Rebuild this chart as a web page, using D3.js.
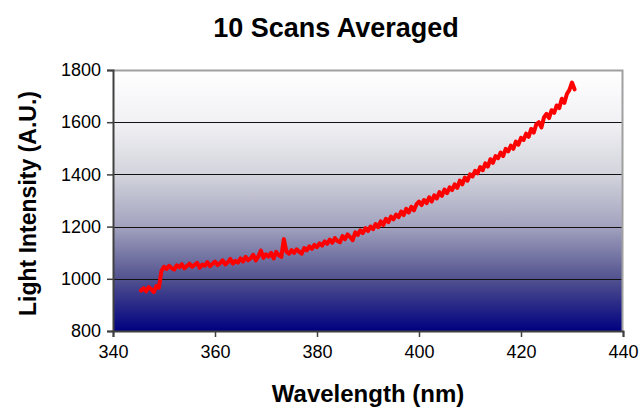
<!DOCTYPE html>
<html>
<head>
<meta charset="utf-8">
<script src="https://cdn.jsdelivr.net/npm/d3@7"></script>
<style>
  html, body { margin: 0; padding: 0; background: #ffffff; }
  svg { display: block; font-family: "Liberation Sans", Arial, sans-serif; }
</style>
</head>
<body>
<svg id="chart" width="643" height="408"></svg>
<script>
// ---- data ----
const titleText = "10 Scans Averaged";
const xLabel = "Wavelength (nm)";
const yLabel = "Light Intensity (A.U.)";
const xTicks = [340, 360, 380, 400, 420, 440];
const yTicks = [800, 1000, 1200, 1400, 1600, 1800];
const wlStart = 345.5;   // first wavelength (nm)
const wlStep = 0.5;      // sampling step (nm)
const intensity = [
  955, 964, 952, 968, 960, 949, 972, 966, 1030, 1046,
  1038, 1050, 1041, 1035, 1052, 1044, 1056, 1040, 1049, 1058,
  1046, 1053, 1061, 1042, 1055, 1050, 1064, 1048, 1057, 1066,
  1052, 1060, 1071, 1055, 1063, 1076, 1058, 1069, 1062, 1078,
  1066, 1084, 1071, 1079, 1092, 1070, 1086, 1108, 1080, 1094,
  1085, 1099, 1078, 1103, 1090, 1084, 1152, 1104, 1096, 1110,
  1099, 1113, 1104, 1096, 1118, 1109, 1124, 1115, 1130, 1121,
  1136, 1127, 1143, 1134, 1150, 1138, 1156, 1145, 1140, 1164,
  1152, 1170, 1160, 1148, 1178, 1168, 1186, 1175, 1194, 1183,
  1200, 1190, 1210, 1198, 1220, 1206, 1230, 1217, 1238, 1228,
  1246, 1236, 1258, 1244, 1268, 1254, 1276, 1262, 1285, 1296,
  1282, 1302, 1290, 1312, 1296, 1320, 1308, 1332, 1318, 1342,
  1328, 1350, 1340, 1362, 1348, 1376, 1362, 1388, 1376, 1400,
  1392, 1414, 1404, 1428, 1416, 1442, 1430, 1458, 1444, 1470,
  1462, 1484, 1470, 1498, 1488, 1510, 1498, 1526, 1514, 1540,
  1532, 1556, 1544, 1574, 1560, 1592, 1600, 1580, 1618, 1632,
  1616, 1646, 1636, 1664, 1654, 1690, 1674, 1708, 1724, 1752,
  1726
];
const points = intensity.map((v, i) => ({ x: wlStart + i * wlStep, y: v }));

// ---- layout ----
const svg = d3.select("#chart");
const W = 643, H = 408;
const m = { top: 70, right: 20, bottom: 77, left: 113 };
const pw = W - m.left - m.right, ph = H - m.top - m.bottom;

const x = d3.scaleLinear().domain([340, 440]).range([0, pw]);
const y = d3.scaleLinear().domain([800, 1800]).range([ph, 0]);

const defs = svg.append("defs");
const grad = defs.append("linearGradient").attr("id", "bg")
  .attr("x1", 0).attr("y1", 0).attr("x2", 0).attr("y2", 1);
[[0, "#ffffff"], [0.2, "#f1f1f5"], [0.4, "#d3d4dc"], [0.6, "#a2a2bf"], [0.8, "#52528f"], [1, "#000080"]]
  .forEach(([o, c]) => grad.append("stop").attr("offset", o).attr("stop-color", c));

const g = svg.append("g").attr("transform", `translate(${m.left},${m.top})`);

g.append("rect").attr("width", pw).attr("height", ph).attr("fill", "url(#bg)");

// gridlines
g.append("g").selectAll("line").data(yTicks.slice(1, -1)).join("line")
  .attr("x1", 0).attr("x2", pw)
  .attr("y1", d => Math.round(y(d)) + 0.5).attr("y2", d => Math.round(y(d)) + 0.5)
  .attr("stroke", "#111").attr("stroke-width", 1);

// border top/right
g.append("path").attr("d", `M0,0.5H${pw - 0.5}V${ph}`)
  .attr("fill", "none").attr("stroke", "#a0a0a0").attr("stroke-width", 2);

// line
const line = d3.line().x(d => x(d.x)).y(d => y(d.y));
g.append("path").datum(points).attr("d", line)
  .attr("fill", "none").attr("stroke", "#ff0000").attr("stroke-width", 4)
  .attr("stroke-linejoin", "round").attr("stroke-linecap", "round");

// axes
const xAxis = g.append("g").attr("transform", `translate(0,${ph})`)
  .call(d3.axisBottom(x).tickValues(xTicks).tickSize(6).tickPadding(8).tickFormat(d3.format("d")));
const yAxis = g.append("g")
  .call(d3.axisLeft(y).tickValues(yTicks).tickSize(6).tickPadding(6).tickFormat(d3.format("d")));
[xAxis, yAxis].forEach(a => {
  a.select(".domain").attr("stroke", "#404040").attr("stroke-width", 2);
  a.selectAll(".tick line").attr("stroke", "#404040").attr("stroke-width", 1.5);
  a.selectAll(".tick text").attr("fill", "#000").style("font-size", "18px")
    .style("font-family", "'Liberation Sans', Arial, sans-serif");
});

// titles
svg.append("text").attr("x", 336).attr("y", 37).attr("text-anchor", "middle")
  .style("font-size", "27px").style("font-weight", "bold").text(titleText);
svg.append("text").attr("x", 368).attr("y", 402).attr("text-anchor", "middle")
  .style("font-size", "24px").style("font-weight", "bold").text(xLabel);
svg.append("text").attr("transform", `translate(36,${m.top + ph / 2 + 3}) rotate(-90)`)
  .attr("text-anchor", "middle")
  .style("font-size", "23px").style("font-weight", "bold").text(yLabel);
</script>
</body>
</html>
